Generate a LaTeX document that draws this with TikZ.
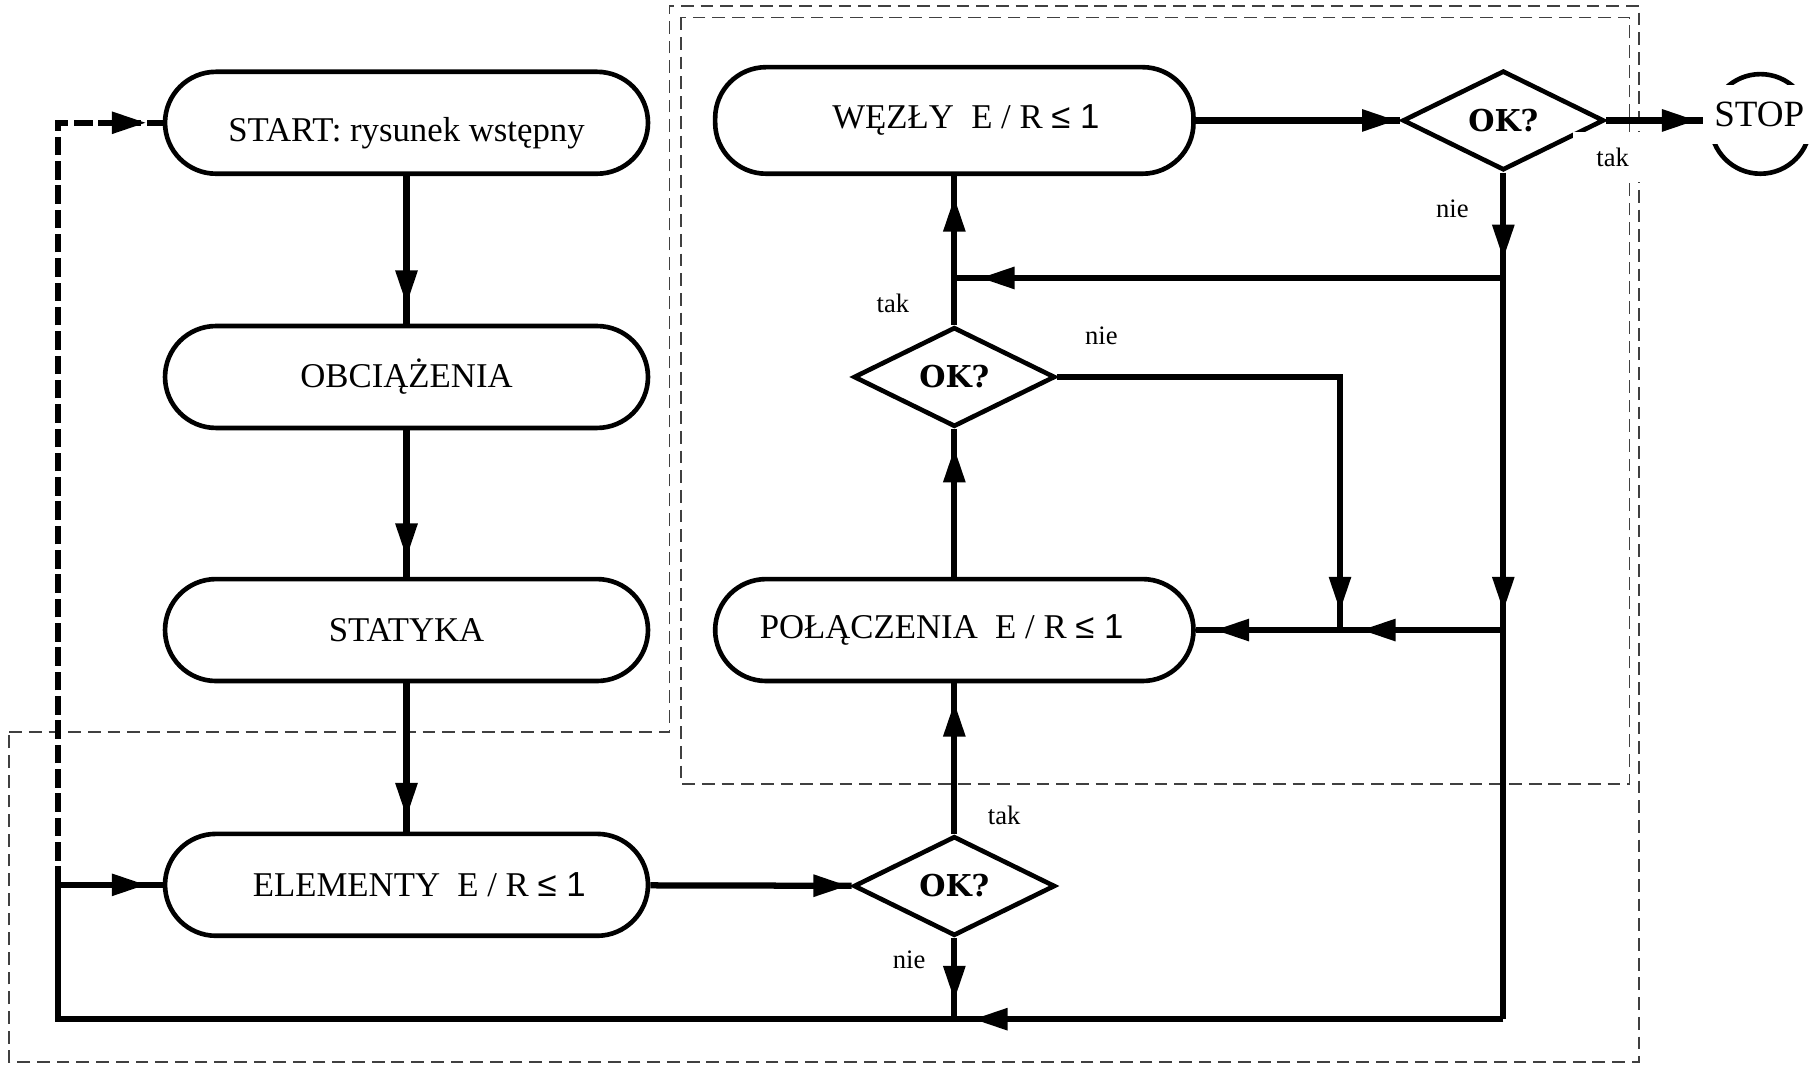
\documentclass[tikz,border=0pt]{standalone}
\usepackage{fontspec}
\setmainfont{Liberation Serif}
\newfontfamily\sansnum{Liberation Sans}
\newfontfamily\okfont{DejaVu Serif}
\usetikzlibrary{shapes.geometric,arrows.meta,decorations.markings}
\tikzset{
  box/.style={draw, line width=2pt, rectangle, rounded corners=22pt, minimum width=208.5pt,
    minimum height=44pt, inner sep=0pt, fill=white, font=\fontsize{15}{18}\selectfont},
  dia/.style={draw, line width=2pt, diamond, aspect=2, minimum width=87pt, minimum height=43pt,
    inner sep=0pt, fill=white, font=\okfont\bfseries\fontsize{13}{15}\selectfont},
  conn/.style={line width=2.7pt},
  arr/.style={decoration={markings, mark=at position #1 with {\arrow{Triangle[length=15pt,width=9pt]}}},
    postaction={decorate}},
  lbl/.style={font=\fontsize{11.5}{13}\selectfont, inner sep=1pt},
  region/.style={draw=black!75, line width=0.7pt, dash pattern=on 5.5pt off 3pt},
  back/.style={line width=2.7pt, dash pattern=on 8pt off 2.5pt},
}
\begin{document}
\begin{tikzpicture}[x=0.5pt,y=-0.5pt]
\useasboundingbox (0,0) rectangle (1568,920);
% dashed regions
\draw[region] (8,632) -- (578,632) -- (578,5) -- (1415,5) -- (1415,917) -- (8,917) -- cycle;
\draw[region] (588,15) rectangle (1407,677);

% nodes
\node[box, label={[font=\fontsize{15}{18}\selectfont, yshift=-4.5pt]center:START: rysunek wstępny}] (start) at (351,106) {};
\node[box] (obc) at (351,325.5) {OBCIĄŻENIA};
\node[box] (stat) at (351,544) {STATYKA};
\node[box] (elem) at (351,764) {\hspace*{11pt}ELEMENTY\ \ E / R {\sansnum ≤ 1}};
\node[box, minimum width=206.5pt, minimum height=46pt] (wez) at (824,104) {\hspace*{10pt}WĘZŁY\ \ E / R {\sansnum ≤ 1}};
\node[box, minimum width=206.5pt] (pol) at (824,544) {POŁĄCZENIA\ \ E / R {\sansnum ≤ 1}\hspace*{11pt}};
\node[dia] (d1) at (824,765) {OK?};
\node[dia] (d2) at (824,325.5) {OK?};
\node[dia] (d3) at (1298,104) {OK?};
\node[circle, draw, line width=2pt, minimum size=43pt, inner sep=0pt] (stopc) at (1520,107) {};

% junctions
\coordinate (j1) at (1298,240);
\coordinate (j2) at (824,240);
\coordinate (j3) at (1157,544);
\coordinate (j4) at (1298,544);
\coordinate (r) at (1298,880);
\coordinate (bl) at (824,880);
\coordinate (bll) at (50,880);
\coordinate (jl) at (50,764);
\coordinate (jt) at (50,106);

% connectors
\draw[conn, arr=-8pt] (start) -- (obc);
\draw[conn, arr=-8pt] (obc) -- (stat);
\draw[conn, arr=-6pt] (stat) -- (elem);
\draw[conn, arr=-1.5pt] (elem) -- (d1);
\draw[conn, arr=-8pt] (d1) -- (pol);
\draw[conn, arr=-8pt] (d1) -- (bl);
\draw[conn, arr=-8pt] (r) -- (bl);
\draw[conn, arr=-7pt] (bl) -- (bll) -- (jl) -- (elem.west);
\draw[back, arr=-7pt] (jl) -- (jt) -- (start.west);
\draw[conn, arr=-8pt] (d3) -- (j1);
\draw[conn, arr=-8pt] (j1) -- (j4);
\draw[conn] (j4) -- (r);
\draw[conn, arr=-11pt] (j1) -- (j2);
\draw[conn, arr=-9pt] (d2) -- (wez);
\draw[conn, arr=-8pt] (pol) -- (d2);
\draw[conn, arr=-8pt] (d2.east) -| (j3);
\draw[conn, arr=-9pt] (j4) -- (j3);
\draw[conn, arr=-8pt] (j3) -- (pol.east);
\draw[conn, arr=-1.5pt] (wez) -- (d3);
\draw[conn, arr=-5pt] (d3.east) -- (d3.east -| stopc.west);

% labels
\node[lbl] (l1) at (1254,180) {nie};
\node[lbl] (l2) at (771,262) {tak};
\node[lbl] (l3) at (951,290) {nie};
\node[lbl] (l4) at (867,704) {tak};
\node[lbl] (l5) at (785,829) {nie};
\node[lbl, fill=white, minimum width=30.5pt, minimum height=21.5pt] (l6) at (1388.5,135.5) {\hspace*{4pt}tak};
\node[fill=white, minimum width=49pt, minimum height=25.5pt, inner sep=0pt,
  font=\fontsize{16}{18}\selectfont] (stop) at (1519,98.5) {STOP};
\end{tikzpicture}
\end{document}
